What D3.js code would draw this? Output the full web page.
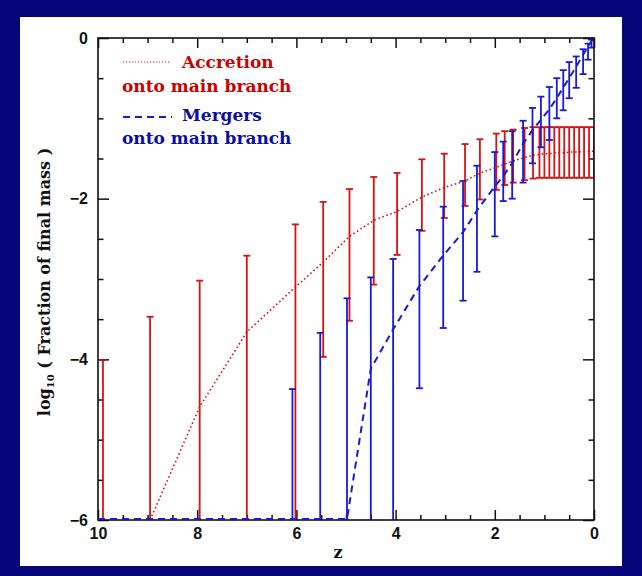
<!DOCTYPE html>
<html>
<head>
<meta charset="utf-8">
<script src="https://cdn.jsdelivr.net/npm/d3@7"></script>
<style>
  html, body { margin: 0; padding: 0; background: #06067a; }
  svg { display: block; }
</style>
</head>
<body>
<svg id="chart" width="642" height="576"></svg>
<script>
// Accretion onto the main branch: redshift, median log mass fraction, error range
const accZ    = [9.9, 8.95, 7.95, 7.0, 6.02, 5.46, 4.93, 4.44, 3.97, 3.47, 3.02, 2.6, 2.3, 1.97, 1.8, 1.63, 1.4, 1.23,
                 1.1, 1.0, 0.9, 0.8, 0.7, 0.6, 0.5, 0.4, 0.3, 0.2, 0.1, 0.0];
const accMean = [null, -6, -4.59, -3.66, -3.10, -2.79, -2.47, -2.27, -2.16, -1.98, -1.86, -1.78, -1.68, -1.61, -1.57, -1.53, -1.49, -1.46,
                 -1.45, -1.44, -1.44, -1.43, -1.43, -1.43, -1.42, -1.42, -1.42, -1.41, -1.41, -1.41];
const accHi   = [-4.01, -3.47, -3.02, -2.71, -2.32, -2.04, -1.88, -1.73, -1.68, -1.51, -1.44, -1.32, -1.26, -1.19, -1.16, -1.14, -1.12, -1.11,
                 -1.11, -1.11, -1.11, -1.11, -1.11, -1.11, -1.11, -1.11, -1.11, -1.11, -1.11, -1.11];
const accLo   = [-9, -9, -9, -9, -9, -3.97, -3.52, -3.07, -2.70, -2.40, -2.24, -2.09, -2.01, -1.89, -1.83, -1.80, -1.77, -1.75,
                 -1.74, -1.74, -1.74, -1.74, -1.74, -1.74, -1.74, -1.74, -1.74, -1.74, -1.74, -1.74];

// Mergers onto the main branch (null range = no error bar at that redshift)
const merZ    = [10, 9, 8, 7, 6.08, 5.52, 4.98, 4.5, 4.05, 3.52, 3.04, 2.64, 2.36, 2.0, 1.83, 1.65, 1.43, 1.24, 1.07,
                 0.9, 0.75, 0.62, 0.5, 0.36, 0.22, 0.12, 0.05, 0];
const merMean = [-6, -6, -6, -6, -6, -6, -6, -4.13, -3.64, -3.10, -2.72, -2.43, -2.16, -1.86, -1.73, -1.57, -1.33, -1.16, -1.03,
                 -0.90, -0.76, -0.63, -0.51, -0.37, -0.22, -0.12, -0.05, 0];
const merHi   = [null, null, null, null, -4.37, -3.67, -3.24, -2.98, -2.75, -2.39, -2.10, -1.78, -1.59, -1.42, -1.29, -1.16, -1.03, -0.87, -0.73,
                 -0.61, -0.50, -0.40, -0.30, -0.23, -0.14, -0.07, -0.02, null];
const merLo   = [null, null, null, null, -9, -9, -9, -9, -9, -4.36, -3.61, -3.27, -2.91, -2.47, -2.03, -2.00, -1.80, -1.56, -1.36,
                 -1.27, -1.00, -0.90, -0.75, -0.62, -0.45, -0.27, -0.12, null];

const xMajor = [10, 8, 6, 4, 2, 0];
const yMajor = [-6, -4, -2, 0];
const legendLines = ["Accretion", "onto main branch", "Mergers", "onto main branch"];

const RED = "#d41414", BLUE = "#1a1ad0", TEXT_RED = "#c80000", TEXT_BLUE = "#0c0ca8";

const svg = d3.select("#chart");
// white panel on the navy page
svg.append("rect").attr("x", 20).attr("y", 17).attr("width", 602).attr("height", 549).attr("fill", "#ffffff");

const x = d3.scaleLinear().domain([10, 0]).range([98, 594]);
const y = d3.scaleLinear().domain([-6, 0]).range([520, 38]);
const [x0, x1] = x.range(), [y0, y1] = y.range();

svg.append("clipPath").attr("id", "plot-clip")
  .append("rect").attr("x", x0).attr("y", y1).attr("width", x1 - x0).attr("height", y0 - y1);

const minusFmt = d => (d < 0 ? "\u2212" : "") + Math.abs(d);
const xMinor = d3.range(0, 10.01, 0.5).filter(v => xMajor.indexOf(v) < 0);
const yMinor = d3.range(-6, 0.01, 0.5).filter(v => yMajor.indexOf(v) < 0);

function drawAxis(axisFn, scale, pos, major, minor, len, labels) {
  const gMaj = svg.append("g").attr("transform", pos)
    .call(axisFn(scale).tickValues(major).tickSizeInner(-len).tickSizeOuter(0)
      .tickPadding(labels ? 8 : 0).tickFormat(labels ? minusFmt : () => ""));
  const gMin = svg.append("g").attr("transform", pos)
    .call(axisFn(scale).tickValues(minor).tickSizeInner(-len / 2).tickSizeOuter(0).tickFormat(() => ""));
  [gMaj, gMin].forEach(g => {
    g.select(".domain").remove();
    g.selectAll(".tick line").attr("stroke", "#111").attr("stroke-width", 1.5);
    g.selectAll("text").attr("fill", "#111").attr("font-family", "Liberation Sans, Arial, sans-serif")
      .attr("font-weight", "bold").attr("font-size", 16);
  });
  return gMaj;
}
drawAxis(d3.axisBottom, x, `translate(0,${y0})`, xMajor, xMinor, 10, true);
drawAxis(d3.axisTop, x, `translate(0,${y1})`, xMajor, xMinor, 10, false);
const gl = drawAxis(d3.axisLeft, y, `translate(${x0},0)`, yMajor, yMinor, 11, true);
drawAxis(d3.axisRight, y, `translate(${x1},0)`, yMajor, yMinor, 11, false);
gl.selectAll("text").attr("dx", -2);

const plot = svg.append("g").attr("clip-path", "url(#plot-clip)");

function errorBars(zs, hi, lo, color) {
  const rows = zs.map((z, i) => ({ z, hi: hi[i], lo: lo[i] })).filter(d => d.hi != null);
  const g = plot.append("g").attr("stroke", color).attr("stroke-width", 1.8).attr("fill", "none");
  g.selectAll("line.bar").data(rows).join("line").attr("class", "bar")
    .attr("x1", d => x(d.z)).attr("x2", d => x(d.z)).attr("y1", d => y(d.hi)).attr("y2", d => y(d.lo));
  g.selectAll("line.cap-hi").data(rows).join("line").attr("class", "cap-hi")
    .attr("x1", d => x(d.z) - 3.5).attr("x2", d => x(d.z) + 3.5).attr("y1", d => y(d.hi)).attr("y2", d => y(d.hi));
  g.selectAll("line.cap-lo").data(rows).join("line").attr("class", "cap-lo")
    .attr("x1", d => x(d.z) - 3.5).attr("x2", d => x(d.z) + 3.5).attr("y1", d => y(d.lo)).attr("y2", d => y(d.lo));
}
errorBars(accZ, accHi, accLo, RED);
errorBars(merZ, merHi, merLo, BLUE);

const line = d3.line().defined(d => d[1] != null).x(d => x(d[0])).y(d => y(d[1]));
plot.append("path").datum(accZ.map((z, i) => [z, accMean[i]]))
  .attr("d", line).attr("fill", "none").attr("stroke", RED).attr("stroke-width", 1.6)
  .attr("stroke-dasharray", "1.6,2.6");

// plot frame
svg.append("rect").attr("x", x0).attr("y", y1).attr("width", x1 - x0).attr("height", y0 - y1)
  .attr("fill", "none").attr("stroke", "#111").attr("stroke-width", 1.6);

// mergers curve drawn over the frame so the floor segment at -6 stays visible
svg.append("path").datum(merZ.map((z, i) => [z, merMean[i]]))
  .attr("d", line).attr("fill", "none").attr("stroke", BLUE).attr("stroke-width", 2)
  .attr("stroke-dasharray", "7,5").attr("transform", "translate(0,-1)");

// legend
const legFont = "DejaVu Serif, serif";
svg.append("line").attr("x1", 123).attr("x2", 170).attr("y1", 62).attr("y2", 62)
  .attr("stroke", RED).attr("stroke-width", 1.2).attr("stroke-dasharray", "1.2,1.8");
svg.append("line").attr("x1", 123).attr("x2", 172).attr("y1", 117).attr("y2", 117)
  .attr("stroke", BLUE).attr("stroke-width", 2).attr("stroke-dasharray", "7,5");
const legPos = [[182, 68, TEXT_RED], [122, 92, TEXT_RED], [182, 121, TEXT_BLUE], [122, 144, TEXT_BLUE]];
legendLines.forEach((t, i) => {
  svg.append("text").attr("x", legPos[i][0]).attr("y", legPos[i][1]).text(t)
    .attr("fill", legPos[i][2]).attr("font-family", legFont).attr("font-weight", "bold").attr("font-size", 17);
});

// axis titles
svg.append("text").attr("x", (x0 + x1) / 2 - 8).attr("y", 558).attr("text-anchor", "middle")
  .attr("font-family", legFont).attr("font-weight", "bold").attr("font-size", 16).attr("fill", "#111").text("z");
const yt = svg.append("text").attr("transform", "translate(50,282) rotate(-90)").attr("text-anchor", "middle")
  .attr("font-family", legFont).attr("font-weight", "bold").attr("font-size", 16).attr("fill", "#111");
yt.append("tspan").text("log");
yt.append("tspan").attr("font-size", 10).attr("dy", 4).text("10");
yt.append("tspan").attr("dy", -4).text(" ( Fraction of final mass )");
</script>
</body>
</html>
